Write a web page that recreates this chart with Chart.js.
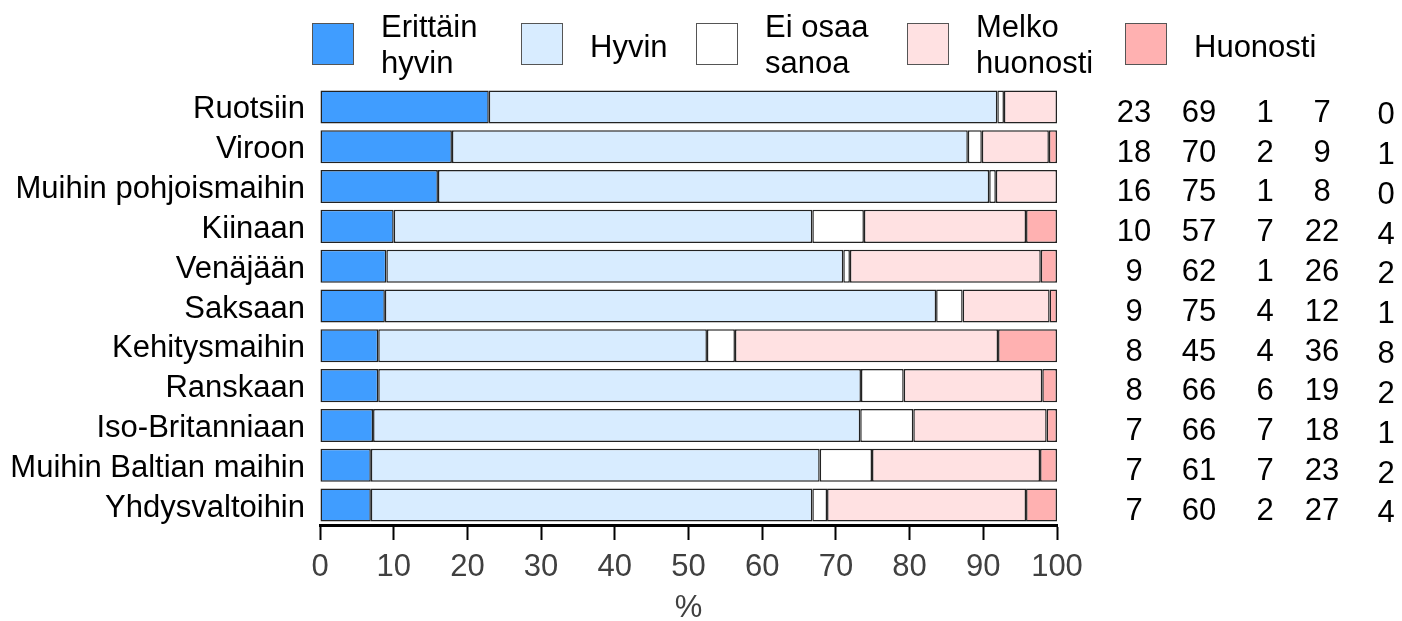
<!DOCTYPE html>
<html lang="fi">
<head>
<meta charset="utf-8">
<title>Kaavio</title>
<script src="https://cdn.jsdelivr.net/npm/chart.js"></script>
<style>
  body { margin: 0; background: #fff; }
  #alue { position: relative; width: 1402px; height: 621px; font-family: "Liberation Sans", Arial, sans-serif; }
  #myChart { position: absolute; left: 0; top: 0; }
  .laatikko { position: absolute; top: 23px; width: 40px; height: 40px; border: 1px solid #555; }
  .selite { position: absolute; font-size: 31px; line-height: 36px; color: #000; white-space: nowrap; }
  .luku { position: absolute; width: 60px; margin-left: -30px; text-align: center; font-size: 31px; line-height: 30px; color: #000; }
</style>
</head>
<body>
<div id="alue">
  <canvas id="myChart" width="1402" height="621"></canvas>
</div>
<script>
// maat (kategoriat)
var maat = ['Ruotsiin', 'Viroon', 'Muihin pohjoismaihin', 'Kiinaan', 'Venäjään', 'Saksaan',
            'Kehitysmaihin', 'Ranskaan', 'Iso-Britanniaan', 'Muihin Baltian maihin', 'Yhdysvaltoihin'];

// palkkien osuudet (%), luettu kuvasta
var erittainHyvin = [22.9, 17.9, 16.0, 10.0, 9.0, 8.8, 7.9, 7.9, 7.2, 6.9, 6.9];
var hyvin         = [69.0, 70.0, 74.8, 56.8, 62.0, 74.8, 44.6, 65.5, 66.1, 60.9, 59.9];
var eiOsaaSanoa   = [0.9, 1.9, 0.9, 7.0, 0.9, 3.6, 3.8, 5.8, 7.2, 7.1, 2.0];
var melkoHuonosti = [7.2, 9.1, 8.3, 22.0, 25.9, 11.8, 35.7, 18.8, 18.1, 22.8, 27.0];
var huonosti      = [0, 1.1, 0, 4.2, 2.2, 1.0, 8.0, 2.0, 1.4, 2.3, 4.2];

// oikean reunan taulukon luvut
var lukuErittain = [23, 18, 16, 10, 9, 9, 8, 8, 7, 7, 7];
var lukuHyvin    = [69, 70, 75, 57, 62, 75, 45, 66, 66, 61, 60];
var lukuEiOsaa   = [1, 2, 1, 7, 1, 4, 4, 6, 7, 7, 2];
var lukuMelko    = [7, 9, 8, 22, 26, 12, 36, 19, 18, 23, 27];
var lukuHuono    = [0, 1, 0, 4, 2, 1, 8, 2, 1, 2, 4];

var sarjat = ['Erittäin hyvin', 'Hyvin', 'Ei osaa sanoa', 'Melko huonosti', 'Huonosti'];
var selitteet = [['Erittäin', 'hyvin'], ['Hyvin'], ['Ei osaa', 'sanoa'], ['Melko', 'huonosti'], ['Huonosti']];
var varit = ['#409dff', '#d8ecff', '#ffffff', '#ffe1e2', '#ffb1b1'];

var arvot = [erittainHyvin, hyvin, eiOsaaSanoa, melkoHuonosti, huonosti];
var luvut = [lukuErittain, lukuHyvin, lukuEiOsaa, lukuMelko, lukuHuono];

var fontti = '"Liberation Sans", Arial, sans-serif';

var datasets = [];
for (var i = 0; i < sarjat.length; i++) {
    datasets.push({
        label: sarjat[i],
        data: arvot[i],
        backgroundColor: varit[i],
        borderColor: '#222',
        borderWidth: 1.5,
        borderSkipped: false,
        barPercentage: 0.83,
        categoryPercentage: 1
    });
}

const ctx = document.getElementById('myChart');

var kaavio = new Chart(ctx, {
    type: 'bar',
    data: {
        labels: maat,
        datasets: datasets
    },
    options: {
        indexAxis: 'y',
        responsive: false,
        animation: false,
        layout: { padding: { left: 0, top: 87, right: 345, bottom: 0 } },
        plugins: {
            legend: { display: false },
            tooltip: { enabled: false }
        },
        scales: {
            x: {
                stacked: true,
                min: 0,
                max: 100,
                afterFit: function (scale) { scale.height = 96; },
                ticks: {
                    stepSize: 10,
                    padding: 9,
                    color: '#404040',
                    font: { family: fontti, size: 31 }
                },
                grid: {
                    drawOnChartArea: false,
                    drawTicks: true,
                    tickLength: 15,
                    tickWidth: 2,
                    tickColor: '#000'
                },
                border: { display: true, color: '#000', width: 3 },
                title: {
                    display: true,
                    text: '%',
                    color: '#404040',
                    padding: { top: 0, bottom: 0 },
                    font: { family: fontti, size: 31, lineHeight: 0.8 }
                }
            },
            y: {
                stacked: true,
                afterFit: function (scale) { scale.width = 320; },
                ticks: {
                    autoSkip: false,
                    padding: 15,
                    labelOffset: 3,
                    color: '#000',
                    font: { family: fontti, size: 31 }
                },
                grid: { display: false, drawTicks: false },
                border: { display: false }
            }
        }
    }
});

var alue = document.getElementById('alue');

// selite ylälaitaan
var laatikkoX = [312, 521, 696, 907, 1125];
for (var s = 0; s < selitteet.length; s++) {
    var laatikko = document.createElement('div');
    laatikko.className = 'laatikko';
    laatikko.style.left = laatikkoX[s] + 'px';
    laatikko.style.background = varit[s];
    alue.appendChild(laatikko);

    var teksti = document.createElement('div');
    teksti.className = 'selite';
    teksti.style.left = (laatikkoX[s] + 69) + 'px';
    teksti.style.top = (selitteet[s].length > 1 ? 9 : 29) + 'px';
    teksti.innerHTML = selitteet[s].join('<br>');
    alue.appendChild(teksti);
}

// lukutaulukko palkkien oikealle puolelle
var sarakeX = [1134, 1199, 1265, 1322, 1386];
var sarakeSiirto = [4.5, 4.5, 4.5, 4.5, 7];
var yAkseli = kaavio.scales.y;
for (var r = 0; r < maat.length; r++) {
    var yKeski = yAkseli.getPixelForValue(r);
    for (var c = 0; c < luvut.length; c++) {
        var luku = document.createElement('div');
        luku.className = 'luku';
        luku.style.left = sarakeX[c] + 'px';
        luku.style.top = (yKeski + sarakeSiirto[c] - 14.7) + 'px';
        luku.textContent = luvut[c][r];
        alue.appendChild(luku);
    }
}
</script>
</body>
</html>
